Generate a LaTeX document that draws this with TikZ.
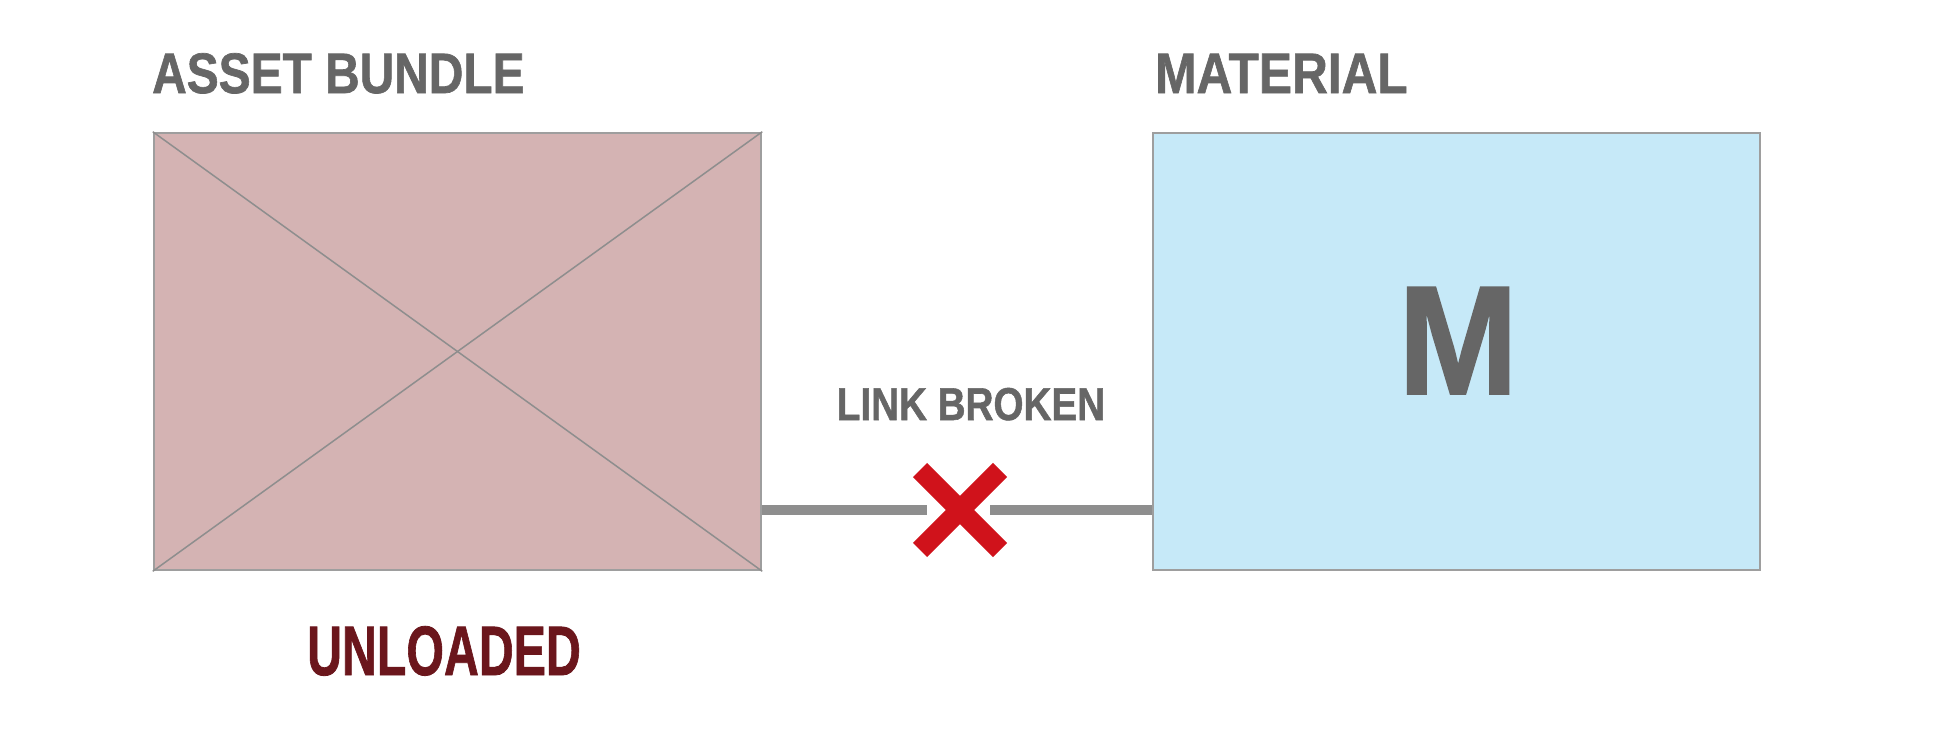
\documentclass[tikz,border=0pt]{standalone}
\usepackage{fontspec}
\usetikzlibrary{calc}
\setmainfont{Liberation Sans}[BoldFeatures={FakeBold=1.2}]
\newcommand{\cnd}[2][0.84]{\scalebox{#1}[1]{#2}}
\definecolor{txtgray}{HTML}{666666}
\definecolor{bordergray}{HTML}{9E9E9E}
\definecolor{bundlefill}{HTML}{D4B3B3}
\definecolor{matfill}{HTML}{C6E9F8}
\definecolor{linkgray}{HTML}{8E8E8E}
\definecolor{xred}{HTML}{D0121B}
\definecolor{unloadred}{HTML}{6B161C}
\begin{document}
\begin{tikzpicture}[x=1pt,y=-1pt,
  boxstyle/.style={draw=bordergray,line width=2.5pt,inner sep=0pt,minimum width=607pt,minimum height=437pt},
  title/.style={inner sep=0pt,anchor=base west,text=txtgray,font=\bfseries\fontsize{57}{57}\selectfont},
  diag/.style={draw=bordergray!90!black,line width=1.5pt},
  link/.style={draw=linkgray,line width=10pt},
  xarm/.style={draw=xred,line width=20pt,line cap=butt}]
\useasboundingbox[fill=white] (0,0) rectangle (1934,740);
% boxes
\node[boxstyle,fill=bundlefill] (bundle) at (457.5,351.5) {};
\node[boxstyle,fill=matfill] (mat) at (1456.5,351.5) {};
\draw[diag] (bundle.north west) -- (bundle.south east);
\draw[diag] (bundle.north east) -- (bundle.south west);
% titles
\node[title] (tbundle) at (152,93) {\cnd{ASSET BUNDLE}};
\node[title] (tmat) at (1155,93) {\cnd[0.87]{MATERIAL}};
% M
\node[inner sep=0pt,anchor=base,text=txtgray,font=\bfseries\fontsize{155}{155}\selectfont] (mletter) at (1458,394) {\cnd[0.93]{M}};
% link
\coordinate (xc) at (960,510);
\coordinate (gapl) at (927,510);
\coordinate (gapr) at (990,510);
\draw[link] (bundle.east |- xc) -- (gapl);
\draw[link] (gapr) -- (mat.west |- xc);
\draw[xarm] ($(xc)+(-40,-40)$) -- ($(xc)+(40,40)$);
\draw[xarm] ($(xc)+(40,-40)$) -- ($(xc)+(-40,40)$);
\node[inner sep=0pt,anchor=base,text=txtgray,font=\bfseries\fontsize{46}{46}\selectfont] (lbl) at (971,420) {\cnd{LINK BROKEN}};
% status
\node[inner sep=0pt,anchor=base,text=unloadred,font=\bfseries\fontsize{70}{70}\selectfont] (status) at (444,675) {\cnd[0.69]{UNLOADED}};
\end{tikzpicture}
\end{document}
